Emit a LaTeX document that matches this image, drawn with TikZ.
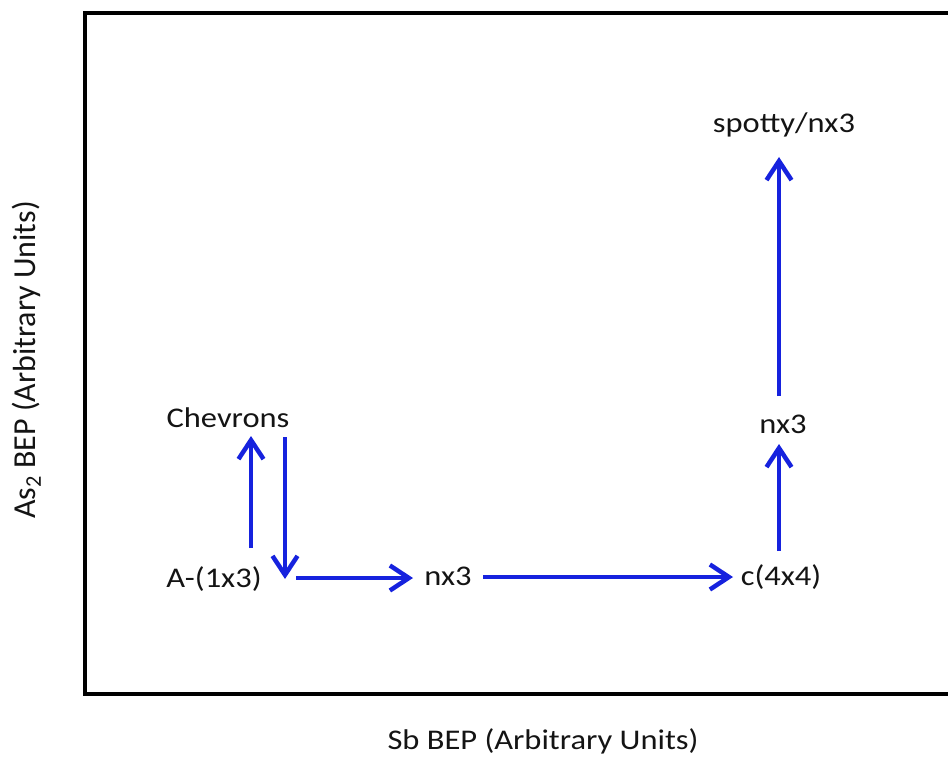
\documentclass[tikz,border=0pt]{standalone}
\usepackage{fontspec}
\setmainfont{Carlito}
\newfontfamily\widesans[FakeStretch=1.14]{Carlito}
\usetikzlibrary{arrows.meta}
\definecolor{flowblue}{RGB}{22,34,222}
\definecolor{ink}{RGB}{20,20,20}
\tikzset{
  lbl/.style={inner sep=0pt, anchor=base, text=ink, font=\widesans\fontsize{28.5}{34}\selectfont},
  ylbl/.style={inner sep=0pt, anchor=base, text=ink, rotate=90, font=\fontsize{32}{38}\selectfont},
  flow/.style={draw=flowblue, line width=4.5pt,
    -{Straight Barb[length=19pt, width=25pt, line width=4.5pt]}},
  frame/.style={draw=black, line width=4pt}
}
\begin{document}
\begin{tikzpicture}[x=1pt, y=-1pt]
  \useasboundingbox (0,0) rectangle (948,757);
  \clip (0,0) rectangle (948,757);
  \fill[white] (0,0) rectangle (948,757);

  % plot frame (open to the right)
  \draw[frame] (990,13) -- (85,13) -- (85,694) -- (990,694);

  % axis titles
  \node[lbl] (xlab) at (543,749) {Sb BEP (Arbitrary Units)};
  \node[ylbl] (ylab) at (35,360) {As\textsubscript{2} BEP (Arbitrary Units)};

  % surface reconstructions
  \node[lbl] (A)    at (214,587) {A-(1x3)};
  \node[lbl] (chev) at (228,427) {Chevrons};
  \node[lbl] (n1)   at (448,585) {nx3};
  \node[lbl] (c44)  at (781,585) {c(4x4)};
  \node[lbl] (n2)   at (783,433) {nx3};
  \node[lbl] (spot) at (784,133) {spotty/nx3};

  % connector end points
  \coordinate (aUp0)  at (251,548);
  \coordinate (aUp1)  at (251,436);
  \coordinate (dn0)   at (285,437);
  \coordinate (dn1)   at (285,579);
  \coordinate (h0)    at (296,578);
  \coordinate (h1)    at (413,578);
  \coordinate (h2)    at (483,577);
  \coordinate (h3)    at (733,577);
  \coordinate (v0)    at (779,551);
  \coordinate (v1)    at (779,444);
  \coordinate (v2)    at (779,396);
  \coordinate (v3)    at (779,157);

  % transitions
  \draw[flow] (aUp0) -- (aUp1);
  \draw[flow] (dn0) -- (dn1);
  \draw[flow] (h0) -- (h1);
  \draw[flow] (h2) -- (h3);
  \draw[flow] (v0) -- (v1);
  \draw[flow] (v2) -- (v3);
\end{tikzpicture}
\end{document}
